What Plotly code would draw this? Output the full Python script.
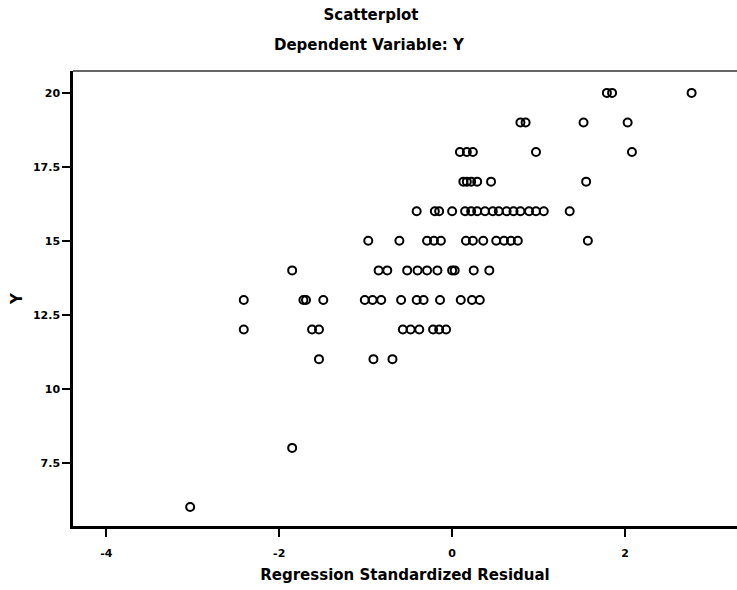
import plotly.graph_objects as go

# Regression standardized residual (x) against dependent variable Y, grouped by Y level
rows = {
    20: [1.79, 1.85, 2.77],
    19: [0.79, 0.85, 1.52, 2.03],
    18: [0.09, 0.17, 0.24, 0.97, 2.08],
    17: [0.13, 0.17, 0.22, 0.29, 0.45, 1.55],
    16: [-0.41, -0.20, -0.15, 0.00, 0.15, 0.22, 0.29, 0.38, 0.47, 0.54, 0.63,
         0.71, 0.79, 0.89, 0.97, 1.06, 1.36],
    15: [-0.97, -0.61, -0.29, -0.21, -0.13, 0.16, 0.24, 0.36, 0.51, 0.60, 0.68,
         0.76, 1.57],
    14: [-1.85, -0.85, -0.75, -0.52, -0.40, -0.29, -0.17, 0.00, 0.03, 0.25, 0.43],
    13: [-2.41, -1.72, -1.69, -1.49, -1.01, -0.92, -0.82, -0.59, -0.41, -0.33,
         -0.14, 0.10, 0.23, 0.32],
    12: [-2.41, -1.62, -1.54, -0.57, -0.48, -0.38, -0.22, -0.15, -0.07],
    11: [-1.54, -0.91, -0.69],
    8: [-1.85],
    6: [-3.03],
}

residuals = []
y_values = []
for y_level, xs in rows.items():
    for x in xs:
        residuals.append(x)
        y_values.append(y_level)

x_ticks = [-4, -2, 0, 2]
y_ticks = [7.5, 10, 12.5, 15, 17.5, 20]
y_tick_text = ["7.5", "10", "12.5", "15", "17.5", "20"]

FONT = "DejaVu Sans, Verdana, sans-serif"

fig = go.Figure(
    go.Scatter(
        x=residuals,
        y=y_values,
        mode="markers",
        marker=dict(symbol="circle-open", size=8, color="black",
                    line=dict(width=2, color="black")),
        hoverinfo="x+y",
    )
)

fig.update_layout(
    width=737,
    height=590,
    margin=dict(l=73, r=0, t=71, b=64),
    paper_bgcolor="white",
    plot_bgcolor="white",
    showlegend=False,
    font=dict(family=FONT, color="black"),
    title=dict(
        text="Scatterplot",
        x=(371 / 737), xanchor="center",
        y=1 - 15 / 590, yanchor="middle", yref="container",
        font=dict(family=FONT, size=15, weight="bold", color="black"),
    ),
    annotations=[
        dict(
            text="Dependent Variable: Y",
            xref="paper", yref="paper",
            x=(369 - 73) / 664, y=(526 - 45) / 455,
            xanchor="center", yanchor="middle",
            showarrow=False,
            font=dict(family=FONT, size=15, weight="bold", color="black"),
        )
    ],
    shapes=[
        dict(type="line", xref="paper", yref="paper", x0=0, x1=1, y0=1, y1=1,
             line=dict(color="#333333", width=1.5)),
    ],
)

fig.update_xaxes(
    range=[-4.385, 3.295],
    tickvals=x_ticks,
    ticktext=[str(v) for v in x_ticks],
    ticks="outside", ticklen=8, tickwidth=1.5, tickcolor="black",
    ticklabelstandoff=7,
    showline=True, linecolor="black", linewidth=2.5,
    showgrid=False, zeroline=False,
    tickfont=dict(family=FONT, size=11, weight="bold", color="black"),
    title=dict(text="Regression Standardized Residual", standoff=11,
               font=dict(family=FONT, size=15, weight="bold", color="black")),
)

fig.update_yaxes(
    range=[5.36, 20.74],
    tickvals=y_ticks,
    ticktext=y_tick_text,
    ticks="outside", ticklen=8, tickwidth=1.5, tickcolor="black",
    showline=True, linecolor="black", linewidth=2.5,
    showgrid=False, zeroline=False,
    tickfont=dict(family=FONT, size=11, weight="bold", color="black"),
    title=dict(text="Y", standoff=7,
               font=dict(family=FONT, size=15, weight="bold", color="black")),
)

fig.write_html("out.html")
